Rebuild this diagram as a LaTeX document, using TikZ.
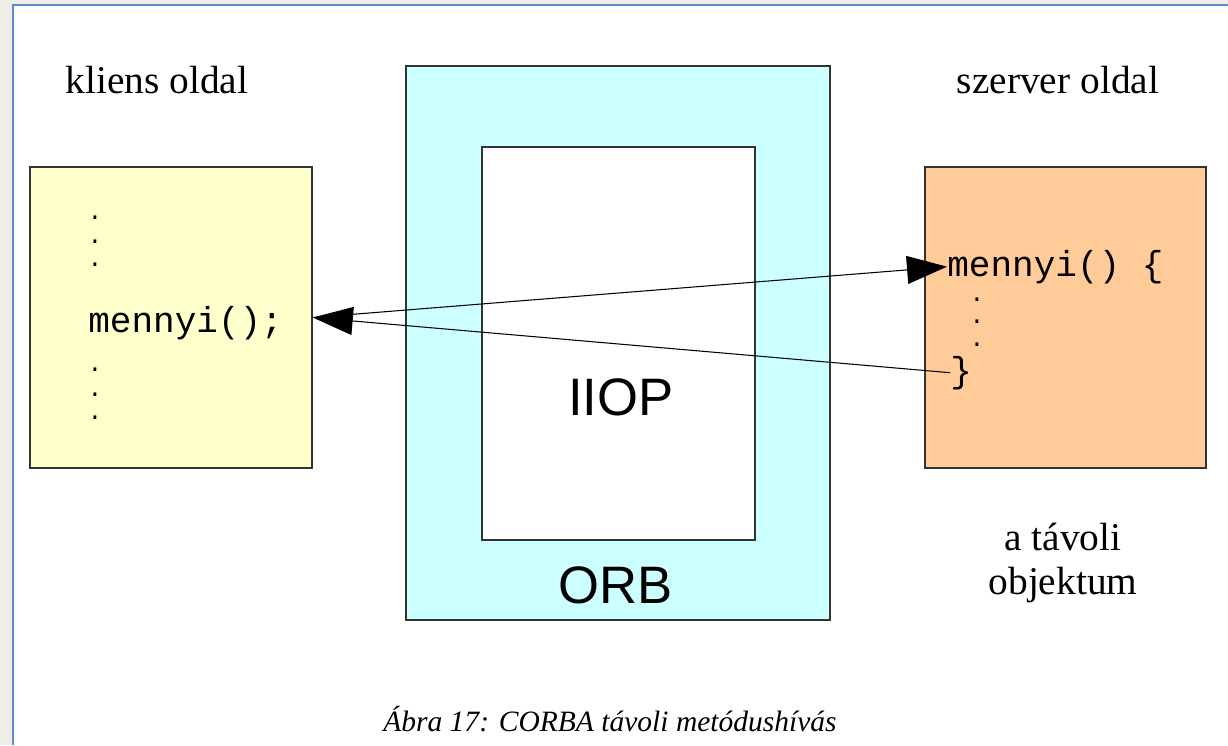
\documentclass[tikz,border=0pt]{standalone}
\usepackage{fontspec}
\setmainfont{Liberation Serif}
\setsansfont{Liberation Sans}
\setmonofont{Liberation Mono}
\usetikzlibrary{arrows.meta}
\definecolor{frameColor}{HTML}{5B8BD0}
\definecolor{pageColor}{HTML}{EFEDE8}
\definecolor{kliensColor}{HTML}{FFFFCC}
\definecolor{orbColor}{HTML}{CCFFFF}
\definecolor{szerverColor}{HTML}{FFCC99}
\definecolor{edgeColor}{HTML}{333333}

\begin{document}
\begin{tikzpicture}[x=0.02cm,y=-0.02cm]
\tikzset{
  box/.style={draw=edgeColor, line width=0.9pt, inner sep=0pt},
  label/.style={font=\fontsize{22.4}{25.6}\selectfont, inner sep=0pt},
  code/.style={font=\ttfamily\fontsize{20.5}{24}\selectfont, inner sep=0pt},
  codedot/.style={font=\ttfamily\fontsize{14}{14}\selectfont, inner sep=0pt},
  big/.style={font=\sffamily\fontsize{30}{34}\selectfont, inner sep=0pt},
  call/.style={line width=0.6pt, -{Triangle[length=0.8cm,width=0.56cm]}},
}
\useasboundingbox (0,0) rectangle (1228,745);
\fill[pageColor] (0,0) rectangle (1228,745);
\fill[white] (13,5) rectangle (1228,745);
\draw[frameColor, line width=1.2pt] (13,745) -- (13,5) -- (1228,5);

% boxes
\node[box, fill=kliensColor, minimum width=5.64cm, minimum height=6.02cm] (kliens) at (171,317.5) {};
\node[box, fill=orbColor, minimum width=8.48cm, minimum height=11.08cm] (orb) at (618,343) {};
\node[box, fill=white, minimum width=5.46cm, minimum height=7.86cm] (iiop) at (618.5,343.5) {};
\node[box, fill=szerverColor, minimum width=5.62cm, minimum height=6.02cm] (szerver) at (1065.5,317.5) {};

\node[big] (iiopLbl) at (621,397) {IIOP};
\node[big] (orbLbl) at (616,585) {ORB};

\node[label] (kliensLbl) at (157,80) {kliens oldal};
\node[label] (szerverLbl) at (1058,80) {szerver oldal};
\node[label, align=center] (tavoliLbl) at (1063,563) {a távoli\\objektum};

% client code
\foreach \y in {218,242,265,370,395,418}
  \node[codedot] (kdot\y) at (95,\y) {.};
\node[code, anchor=base west] (kliensHivas) at (88,332) {mennyi();};

% server code
\node[code, anchor=base west] (szerverHivas) at (947,276) {mennyi() \{};
\foreach \y in {300,322,345}
  \node[codedot] (sdot\y) at (977,\y) {.};
\node[code, anchor=base west] (szerverVege) at (950,382) {\}};

\draw[call] (kliens.east) -- (szerverHivas.west);
\draw[call] (szerverVege.west) -- (kliens.east);

\node[font=\itshape\fontsize{16.8}{20}\selectfont, inner sep=0pt] (abra) at (610,719)
  {Ábra 17: CORBA távoli metódushívás};
\end{tikzpicture}
\end{document}
